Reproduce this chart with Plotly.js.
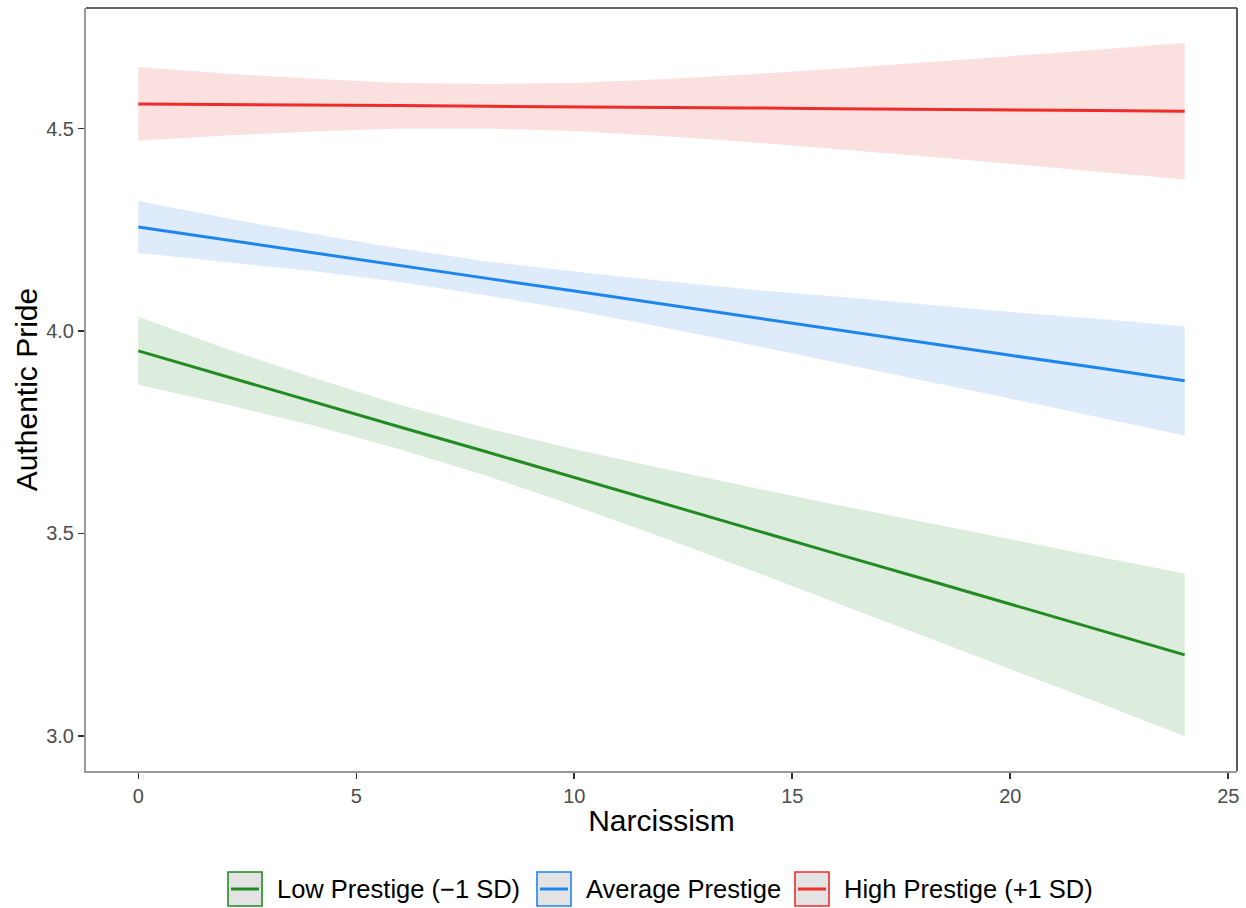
<!DOCTYPE html>
<html>
<head>
<meta charset="utf-8">
<script src="https://cdn.plot.ly/plotly-3.0.1.min.js"></script>
<style>html,body{margin:0;padding:0;background:#fff;}#chart{width:1246px;height:908px;}</style>
</head>
<body>
<div id="chart"></div>
<script>
// Narcissism values at which predictions are shown
const narcissism = [0, 2, 4, 6, 8, 10, 12, 14, 16, 18, 20, 22, 24];

// Low Prestige (-1 SD)
const lowFit   = [3.951, 3.888, 3.826, 3.763, 3.701, 3.638, 3.576, 3.513, 3.450, 3.388, 3.325, 3.263, 3.200];
const lowUpper = [4.035, 3.957, 3.885, 3.818, 3.760, 3.708, 3.661, 3.615, 3.571, 3.528, 3.485, 3.443, 3.401];
const lowLower = [3.867, 3.819, 3.767, 3.708, 3.642, 3.568, 3.491, 3.411, 3.329, 3.248, 3.165, 3.083, 2.999];

// Average Prestige
const avgFit   = [4.257, 4.225, 4.194, 4.162, 4.130, 4.099, 4.067, 4.035, 4.004, 3.972, 3.940, 3.909, 3.877];
const avgUpper = [4.321, 4.279, 4.240, 4.204, 4.172, 4.147, 4.124, 4.103, 4.085, 4.066, 4.047, 4.030, 4.012];
const avgLower = [4.193, 4.171, 4.148, 4.121, 4.088, 4.051, 4.010, 3.967, 3.923, 3.878, 3.833, 3.788, 3.742];

// High Prestige (+1 SD)
const highFit   = [4.561, 4.560, 4.558, 4.557, 4.555, 4.554, 4.552, 4.551, 4.549, 4.548, 4.546, 4.545, 4.543];
const highUpper = [4.652, 4.636, 4.623, 4.613, 4.610, 4.613, 4.622, 4.634, 4.648, 4.663, 4.679, 4.695, 4.712];
const highLower = [4.470, 4.483, 4.493, 4.500, 4.500, 4.494, 4.482, 4.467, 4.450, 4.432, 4.413, 4.394, 4.374];

const groupNames = ["Low Prestige (\u22121 SD)", "Average Prestige", "High Prestige (+1 SD)"];
const xTicks = [0, 5, 10, 15, 20, 25];
const yTicks = [3.0, 3.5, 4.0, 4.5];

const lineColors = ["#228B22", "#1C86EE", "#EE2C2C"];
const fillColors = ["#DDEDDD", "#DDEBFA", "#FBE0E0"];

const groups = [
  {fit: lowFit, up: lowUpper, lo: lowLower},
  {fit: avgFit, up: avgUpper, lo: avgLower},
  {fit: highFit, up: highUpper, lo: highLower}
];

const traces = [];
groups.forEach((g, i) => {
  traces.push({
    type: "scatter", mode: "lines",
    x: narcissism.concat(narcissism.slice().reverse()),
    y: g.up.concat(g.lo.slice().reverse()),
    fill: "toself", fillcolor: fillColors[i],
    line: {width: 0}, hoverinfo: "skip", showlegend: false
  });
});
groups.forEach((g, i) => {
  traces.push({
    type: "scatter", mode: "lines",
    x: narcissism, y: g.fit, name: groupNames[i],
    line: {color: lineColors[i], width: 3}, showlegend: false
  });
});

// layout geometry
const W = 1246, H = 908;
const mL = 86, mR = 9, mT = 8, mB = 137;
const pw = W - mL - mR, ph = H - mT - mB;
const px2x = p => (p - mL) / pw;
const px2y = p => (H - mB - p) / ph;

const shapes = [
  // top & right panel border (dark)
  {type: "line", xref: "paper", yref: "paper", x0: 0, x1: 1, y0: 1, y1: 1, line: {color: "#333333", width: 1.6}},
  {type: "line", xref: "paper", yref: "paper", x0: 1, x1: 1, y0: 0, y1: 1, line: {color: "#333333", width: 1.6}}
];
const annotations = [];
const keyLeft = [228, 537, 795];
const textLeft = [275, 584, 842];
const keyTop = 872, keyBot = 906, keyMid = 889;
groupNames.forEach((n, i) => {
  shapes.push({type: "rect", xref: "paper", yref: "paper",
    x0: px2x(keyLeft[i]), x1: px2x(keyLeft[i] + 34), y0: px2y(keyBot), y1: px2y(keyTop),
    fillcolor: "#E3E3E3", line: {color: lineColors[i], width: 1.6}});
  shapes.push({type: "line", xref: "paper", yref: "paper",
    x0: px2x(keyLeft[i] + 3), x1: px2x(keyLeft[i] + 31), y0: px2y(keyMid), y1: px2y(keyMid),
    line: {color: lineColors[i], width: 3}});
  annotations.push({xref: "paper", yref: "paper", x: px2x(textLeft[i]), y: px2y(keyMid),
    xanchor: "left", yanchor: "middle", showarrow: false, text: n,
    font: {family: "Liberation Sans, Arial, sans-serif", size: 25.5, color: "#000000"}});
});

const layout = {
  width: W, height: H,
  margin: {l: mL, r: mR, t: mT, b: mB, pad: 0},
  paper_bgcolor: "#ffffff", plot_bgcolor: "#ffffff",
  showlegend: false,
  font: {family: "Liberation Sans, Arial, sans-serif"},
  xaxis: {
    range: [-1.2, 25.2], tickvals: xTicks, ticktext: xTicks.map(String),
    showgrid: false, zeroline: false,
    showline: true, linecolor: "#9a9a9a", linewidth: 2,
    ticks: "outside", ticklen: 6, tickwidth: 1.6, tickcolor: "#333333",
    tickfont: {size: 20, color: "#4d4d4d"},
    title: {text: "Narcissism", font: {size: 30, color: "#000000"}, standoff: 4}
  },
  yaxis: {
    range: [2.913, 4.798], tickvals: yTicks, ticktext: yTicks.map(v => v.toFixed(1)),
    showgrid: false, zeroline: false,
    showline: true, linecolor: "#9a9a9a", linewidth: 2,
    ticks: "outside", ticklen: 6, tickwidth: 1.6, tickcolor: "#333333",
    tickfont: {size: 20, color: "#4d4d4d"},
    title: {text: "Authentic Pride", font: {size: 30, color: "#000000"}, standoff: 0}
  },
  shapes: shapes,
  annotations: annotations
};

Plotly.newPlot("chart", traces, layout, {displayModeBar: false, staticPlot: true});
</script>
</body>
</html>
